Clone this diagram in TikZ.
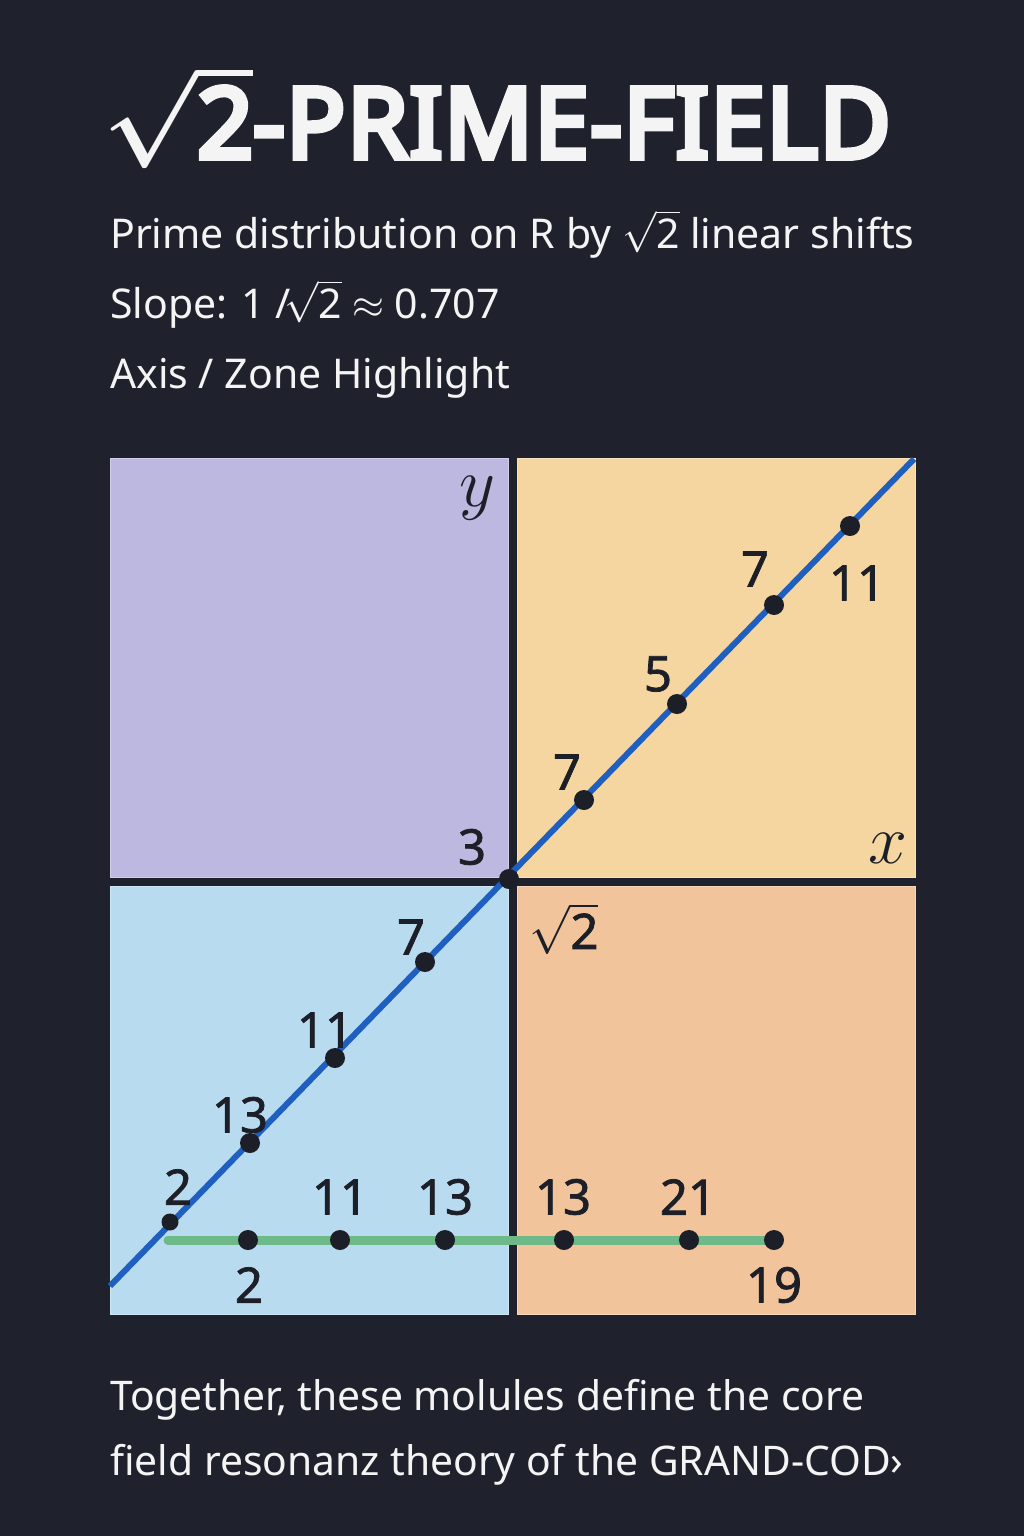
\documentclass[tikz,border=0pt]{standalone}
\usepackage{fix-cm}
\usepackage{fontspec}
\setmainfont{Noto Sans}
\newfontfamily\headfont{Noto Sans}[FakeBold=6,LetterSpace=1.5]
\newfontfamily\numfont{Noto Sans}[FakeBold=1.5]
\definecolor{night}{HTML}{1F222C}
\definecolor{paper}{HTML}{F4F4F4}
\definecolor{ink}{HTML}{1C1F28}
\definecolor{lilac}{HTML}{BDB8DF}
\definecolor{sand}{HTML}{F5D6A0}
\definecolor{sky}{HTML}{B8DBEF}
\definecolor{peach}{HTML}{F2C49B}
\definecolor{lineblue}{HTML}{1E5FBF}
\definecolor{linegreen}{HTML}{6DBA88}
\tikzset{
  title/.style={anchor=base west,inner sep=0pt,text=paper,font=\fontsize{98}{110}\headfont\boldmath},
  sub/.style={anchor=base west,inner sep=0pt,text=paper,font=\fontsize{41}{50}\selectfont},
  foot/.style={sub,font=\fontsize{40.8}{50}\selectfont},
  num/.style={inner sep=0pt,text=ink,font=\fontsize{49}{56}\numfont},
  axl/.style={inner sep=0pt,text=ink,font=\fontsize{70}{76}\selectfont},
  zone/.style={line width=1pt},
  dot/.style={circle,fill=ink,inner sep=0pt,minimum size=20pt},
  dots/.style={dot,minimum size=17pt},
  blueln/.style={draw=lineblue,line width=6pt},
  greenln/.style={draw=linegreen,line width=9pt,line cap=round},
}

\begin{document}
\begin{tikzpicture}[x=1pt,y=-1pt]
\useasboundingbox (0,0) rectangle (1024,1536);
\fill[night] (0,0) rectangle (1024,1536);
\node[title] (t) at (103,158) {$\sqrt{\mbox{2}}$-PRIME-FIELD};
\node[sub] (s1) at (110,248) {Prime distribution on R by $\sqrt{\mbox{2}}$ linear shifts};
\node[sub] (s2) at (110,318) {Slope: 1 /$\!\sqrt{\mbox{2}}$ $\approx$ 0.707};
\node[sub] (s3) at (110,388) {Axis / Zone Highlight};
\filldraw[zone,fill=lilac,draw=lilac!70!white] (110,458) rectangle (508,877);
\filldraw[zone,fill=sand,draw=sand!70!white] (517,458) rectangle (915,877);
\filldraw[zone,fill=sky,draw=sky!70!white] (110,886) rectangle (508,1314);
\filldraw[zone,fill=peach,draw=peach!70!white] (517,886) rectangle (915,1314);
\coordinate (bl) at (110,1286);
\coordinate (tr) at (914,459);
\draw[blueln] (bl) -- (tr);
\coordinate (g0) at (168,1240);
\coordinate (gz) at (774,1240);
\draw[greenln] (g0) -- (gz);
\node[dot] (g1) at (248,1240) {};
\node[dot] (g2) at (340,1240) {};
\node[dot] (g3) at (445,1240) {};
\node[dot] (g4) at (564,1240) {};
\node[dot] (g5) at (689,1240) {};
\node[dot] (g6) at (gz) {};
\node[dots] (d1) at (170,1222) {};
\node[dot] (d2) at (250,1143) {};
\node[dot] (d3) at (335,1058) {};
\node[dot] (d4) at (425,962) {};
\node[dot] (d5) at (509,879) {};
\node[dot] (d6) at (584,800) {};
\node[dot] (d7) at (677,704) {};
\node[dot] (d8) at (774,605) {};
\node[dot] (d9) at (850,526) {};
\node[num] (n1) at (178,1187) {2};
\node[num] (n2) at (240,1115) {13};
\node[num] (n3) at (325,1030) {11};
\node[num] (n4) at (411,937) {7};
\node[num] (n5) at (472,847) {3};
\node[num] (n6) at (567,772) {7};
\node[num] (n7) at (658,674) {5};
\node[num] (n8) at (755,569) {7};
\node[num] (n9) at (857,583) {11};
\node[num] (m1) at (340,1197) {11};
\node[num] (m2) at (445,1197) {13};
\node[num] (m3) at (563,1197) {13};
\node[num] (m4) at (688,1197) {21};
\node[num] (m5) at (249,1285) {2};
\node[num] (m6) at (774,1285) {19};
\node[num] (r2) at (564,929) {$\sqrt{\mbox{2}}$};
\node[axl] (ay) at (477,498) {$y$};
\node[axl] (ax) at (888,848) {$x$};
\node[foot] (f1) at (110,1410) {Together, these molules define the core};
\node[foot] (f2) at (110,1475) {field resonanz theory of the GRAND-COD›};
\end{tikzpicture}
\end{document}
